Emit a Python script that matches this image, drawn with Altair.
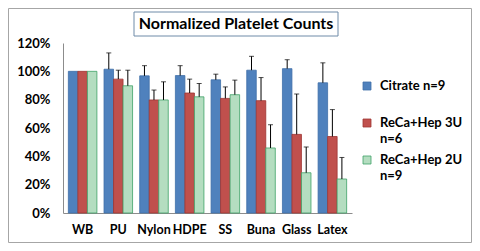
import altair as alt
import pandas as pd

categories = ["WB", "PU", "Nylon", "HDPE", "SS", "Buna", "Glass", "Latex"]
series = ["Citrate n=9", "ReCa+Hep 3U n=6", "ReCa+Hep 2U n=9"]
citrate = [1.00, 1.015, 0.968, 0.970, 0.940, 1.008, 1.019, 0.919]
citrate_err = [0.0, 0.115, 0.072, 0.070, 0.040, 0.098, 0.063, 0.141]
hep3 = [1.00, 0.945, 0.798, 0.847, 0.809, 0.793, 0.555, 0.540]
hep3_err = [0.0, 0.063, 0.070, 0.098, 0.081, 0.163, 0.285, 0.190]
hep2 = [1.00, 0.898, 0.798, 0.820, 0.835, 0.459, 0.284, 0.240]
hep2_err = [0.0, 0.110, 0.128, 0.094, 0.103, 0.164, 0.182, 0.152]
y_ticks = [0, 0.2, 0.4, 0.6, 0.8, 1.0, 1.2]

fills = ["#4F81BD", "#C0504D", "#B4DDC0"]
strokes = ["#3F6FA8", "#9E3532", "#3FA267"]
FONT = "Lato"

rows = []
for s, vals, errs in zip(series, [citrate, hep3, hep2], [citrate_err, hep3_err, hep2_err]):
    for c, v, e in zip(categories, vals, errs):
        rows.append({"category": c, "series": s, "value": v, "err": e, "top": v + e})
df = pd.DataFrame(rows)

W, H = 289, 170

xaxis = alt.Axis(labelAngle=0, ticks=False, domainColor="#8C8C8C", labelPadding=10,
                 labelOverlap=False, labelFont=FONT, labelFontSize=12.5,
                 labelFontWeight="bold", labelColor="#000000")
xscale = alt.Scale(paddingInner=0.2, paddingOuter=0.15)
yaxis = alt.Axis(values=y_ticks, format=".0%", grid=False, ticks=False, domainColor="#8C8C8C",
                 labelOverlap=False, labelFlush=False,
                 labelPadding=13, labelFont=FONT, labelFontSize=13, labelFontWeight="bold",
                 labelColor="#000000")
yscale = alt.Scale(domain=[0, 1.2], nice=False)
xoff = alt.XOffset("series:N", sort=series, scale=alt.Scale(paddingInner=0, paddingOuter=0))

bars = alt.Chart(df).mark_bar(strokeWidth=0.8).encode(
    x=alt.X("category:N", sort=categories, title=None, scale=xscale, axis=xaxis),
    xOffset=xoff,
    y=alt.Y("value:Q", title=None, scale=yscale, axis=yaxis),
    fill=alt.Fill("series:N", sort=series, scale=alt.Scale(domain=series, range=fills), legend=None),
    stroke=alt.Stroke("series:N", sort=series, scale=alt.Scale(domain=series, range=strokes), legend=None),
)

err_df = df[df["err"] > 0]
rules = alt.Chart(err_df).mark_rule(color="#000000", strokeWidth=1).encode(
    x=alt.X("category:N", sort=categories, title=None, scale=xscale, axis=xaxis),
    xOffset=xoff,
    y=alt.Y("value:Q", title=None, scale=yscale, axis=yaxis), y2="top:Q")
caps = alt.Chart(err_df).mark_tick(color="#000000", thickness=1, size=5, orient="horizontal").encode(
    x=alt.X("category:N", sort=categories, title=None, scale=xscale, axis=xaxis),
    xOffset=xoff,
    y=alt.Y("top:Q", title=None, scale=yscale, axis=yaxis))

one = alt.Data(values=[{"a": 1}])
title_box = alt.Chart(one).mark_rect(fill="white", stroke="#6F8BA8", strokeWidth=1).encode(
    x=alt.value(71), x2=alt.value(275), y=alt.value(-31), y2=alt.value(-7))
title_txt = alt.Chart(one).mark_text(text="Normalized Platelet Counts", font=FONT, fontSize=16,
                                     fontWeight="bold", color="#000000", align="center",
                                     baseline="middle").encode(x=alt.value(173), y=alt.value(-19))
frame = alt.Chart(one).mark_rect(fill=None, stroke="#A6A6A6", strokeWidth=1).encode(
    x=alt.value(-54.5), x2=alt.value(289 + 119.5), y=alt.value(-34.5), y2=alt.value(170 + 29.5))

legend_layers = []
leg_y = [43, 80, 117]
leg_lines = [["Citrate n=9"], ["ReCa+Hep 3U", "n=6"], ["ReCa+Hep 2U", "n=9"]]
for i, s in enumerate(series):
    legend_layers.append(alt.Chart(one).mark_rect(fill=fills[i], stroke=strokes[i], strokeWidth=0.8).encode(
        x=alt.value(300), x2=alt.value(308), y=alt.value(leg_y[i] - 4), y2=alt.value(leg_y[i] + 4)))
    for j, line in enumerate(leg_lines[i]):
        legend_layers.append(alt.Chart(one).mark_text(text=line, font=FONT, fontSize=13, fontWeight="bold",
                                                      color="#000000", align="left", baseline="middle").encode(
            x=alt.value(317), y=alt.value(leg_y[i] + 16 * j)))

chart = alt.layer(frame, bars, rules, caps, title_box, title_txt, *legend_layers).properties(
    width=W, height=H,
    padding={"left": 55, "top": 35, "right": 120, "bottom": 30},
    autosize=alt.AutoSizeParams(type="none"),
    background="white",
).configure_view(stroke=None).configure_axis(labelOverlap=False)

chart.save("out.html", embed_options={"renderer": "svg", "actions": False})
